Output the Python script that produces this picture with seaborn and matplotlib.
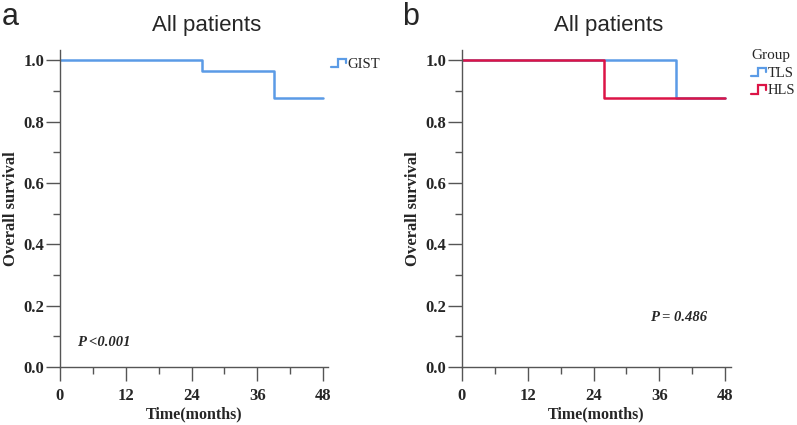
import numpy as np
import pandas as pd
import matplotlib
matplotlib.use("Agg")
import matplotlib.pyplot as plt
import seaborn as sns
from matplotlib.legend_handler import HandlerBase
from matplotlib.lines import Line2D

# ---- data ----
gist_time = [0, 26, 39, 48]
gist_surv = [1.0, 0.963, 0.875, 0.875]

tls_time = [0, 39, 48]
tls_surv = [1.0, 0.875, 0.875]
hls_time = [0, 26, 48]
hls_surv = [1.0, 0.875, 0.875]

x_ticks = [0, 12, 24, 36, 48]
y_ticks = [0.0, 0.2, 0.4, 0.6, 0.8, 1.0]

BLUE = "#5b9be6"
RED = "#dc1446"
SPINE = "#555555"

sns.set_theme(style="white")
plt.rcParams["font.family"] = ["Liberation Serif", "DejaVu Serif"]

W, H = 797, 425
fig = plt.figure(figsize=(W / 100, H / 100), dpi=100)


def px_axes(left_px, right_px, top_px, bottom_px):
    return fig.add_axes([left_px / W, 1 - bottom_px / H,
                         (right_px - left_px) / W, (bottom_px - top_px) / H])


class StepHandler(HandlerBase):
    def create_artists(self, legend, orig_handle, xdescent, ydescent,
                       width, height, fontsize, trans):
        lo = -ydescent + height * 0.05
        hi = -ydescent + height * 0.85
        xs = [-xdescent, -xdescent + 0.45 * width, -xdescent + 0.45 * width,
              -xdescent + width, -xdescent + width]
        ys = [lo, lo, hi, hi, hi - (hi - lo) * 0.55]
        ln = Line2D(xs, ys, color=orig_handle.get_color(), lw=1.6,
                    solid_joinstyle="miter", transform=trans)
        return [ln]


def style_axes(ax):
    ax.set_xlim(0, 49)
    ax.set_ylim(0, 1.033)
    ax.set_xticks(x_ticks)
    ax.set_xticklabels([str(t) for t in x_ticks])
    ax.set_yticks(y_ticks)
    ax.set_yticklabels([f"{t:.1f}" for t in y_ticks])
    ax.set_xticks([6, 18, 30, 42], minor=True)
    ax.set_yticks([0.1, 0.3, 0.5, 0.7, 0.9], minor=True)
    for s in ["top", "right"]:
        ax.spines[s].set_visible(False)
    for s in ["left", "bottom"]:
        ax.spines[s].set_color(SPINE)
        ax.spines[s].set_linewidth(1.0)
    ax.tick_params(axis="both", which="major", direction="out", length=10,
                   width=1.0, color=SPINE, labelsize=12, bottom=True, left=True)
    ax.tick_params(axis="both", which="minor", direction="out", length=5,
                   width=1.0, color=SPINE, bottom=True, left=True)
    ax.tick_params(axis="x", which="major", pad=5)
    ax.tick_params(axis="y", which="major", pad=1.5)
    for lab in ax.get_xticklabels() + ax.get_yticklabels():
        lab.set_fontweight("bold")
    ax.set_xlabel("Time(months)", fontsize=11.5, fontweight="bold", labelpad=2)
    ax.set_ylabel("Overall survival", fontsize=12, fontweight="bold", labelpad=3)
    ax.grid(False)
    ax.set_facecolor("white")


def add_title(ax, x_center_px):
    fig.text(x_center_px / W, 1 - 25 / H, "All patients", fontsize=16,
             family=["Liberation Sans", "DejaVu Sans"], ha="center", va="center")


# ---- panel a ----
ax1 = px_axes(60, 328.5, 50, 367)
df_a = pd.DataFrame({"time": gist_time, "surv": gist_surv, "group": "GIST"})
sns.lineplot(data=df_a, x="time", y="surv", ax=ax1, color=BLUE, lw=1.8,
             drawstyle="steps-post", estimator=None, sort=False, legend=False)
style_axes(ax1)
ax1.text(3.1, 0.081, "P <0.001", fontsize=10.5, fontweight="bold",
         fontstyle="italic", va="center", ha="left")
add_title(ax1, 207)
fig.text(2 / W, 1 - 17 / H, "a", fontsize=22, family=["Liberation Sans", "DejaVu Sans"],
         va="center", ha="left")
h_gist = Line2D([], [], color=BLUE)
fig.legend([h_gist], ["GIST"], handler_map={Line2D: StepHandler()},
           loc="center left", bbox_to_anchor=(331 / W, 1 - 64 / H),
           frameon=False, fontsize=10.5, handlelength=1.05, handletextpad=0.1,
           borderpad=0, borderaxespad=0)

# ---- panel b ----
ax2 = px_axes(462, 730.5, 50, 367)
df_b = pd.concat([
    pd.DataFrame({"time": tls_time, "surv": tls_surv, "group": "TLS"}),
    pd.DataFrame({"time": hls_time, "surv": hls_surv, "group": "HLS"}),
], ignore_index=True)
sns.lineplot(data=df_b, x="time", y="surv", hue="group", ax=ax2,
             palette={"TLS": BLUE, "HLS": RED}, lw=1.8, hue_order=["TLS", "HLS"],
             drawstyle="steps-post", estimator=None, sort=False, legend=False)
style_axes(ax2)
ax2.text(34.3, 0.16, "P = 0.486", fontsize=10.5, fontweight="bold",
         fontstyle="italic", va="center", ha="left")
add_title(ax2, 609)
fig.text(402 / W, 1 - 17 / H, "b", fontsize=22, family=["Liberation Sans", "DejaVu Sans"],
         va="center", ha="left")
h_tls = Line2D([], [], color=BLUE)
h_hls = Line2D([], [], color=RED)
leg = fig.legend([h_tls, h_hls], ["TLS", "HLS"], handler_map={Line2D: StepHandler()},
                 title="Group", title_fontsize=11,
                 loc="upper left", bbox_to_anchor=(751 / W, 1 - 49 / H),
                 frameon=False, fontsize=10.5, handlelength=1.05, handletextpad=0.1,
                 borderpad=0, borderaxespad=0, labelspacing=0.3)
leg._legend_box.align = "left"

fig.savefig("out.png", dpi=100, facecolor="white")
